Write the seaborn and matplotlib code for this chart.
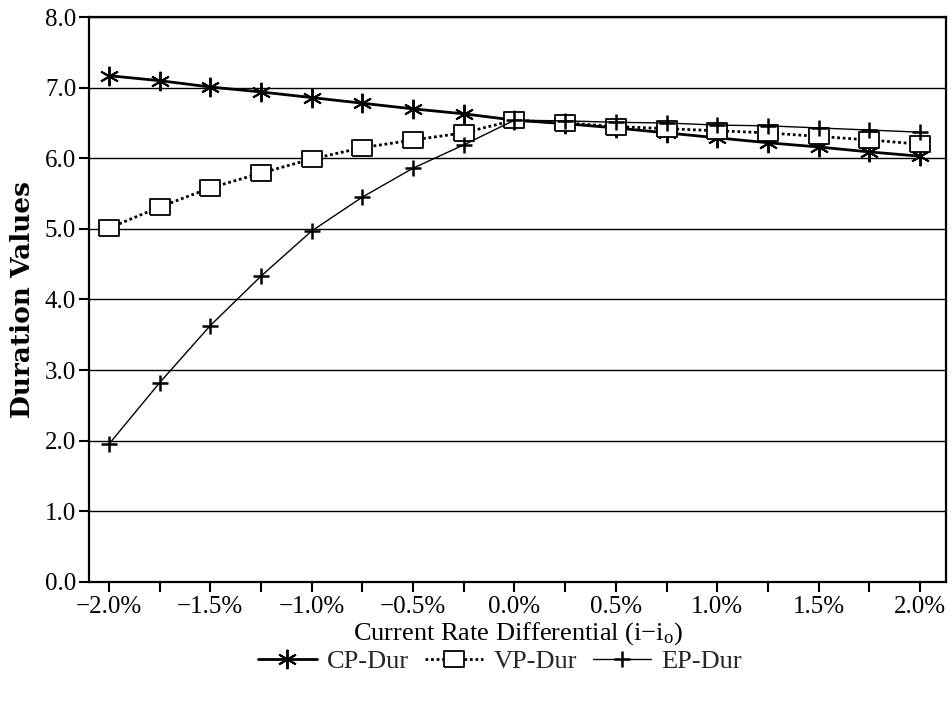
import matplotlib
matplotlib.use("Agg")
import matplotlib.pyplot as plt
from matplotlib.ticker import MultipleLocator, FuncFormatter
import seaborn as sns
import pandas as pd

# rate differential in percent
rate_diff = [-2.0, -1.75, -1.5, -1.25, -1.0, -0.75, -0.5, -0.25, 0.0,
             0.25, 0.5, 0.75, 1.0, 1.25, 1.5, 1.75, 2.0]
cp_dur = [7.17, 7.10, 7.01, 6.94, 6.86, 6.78, 6.70, 6.63, 6.54,
          6.49, 6.43, 6.36, 6.29, 6.22, 6.16, 6.09, 6.03]
vp_dur = [5.01, 5.31, 5.58, 5.79, 5.99, 6.15, 6.26, 6.36, 6.54,
          6.50, 6.45, 6.42, 6.39, 6.36, 6.31, 6.26, 6.20]
ep_dur = [1.95, 2.82, 3.63, 4.33, 4.97, 5.45, 5.86, 6.19, 6.54,
          6.53, 6.51, 6.50, 6.47, 6.46, 6.43, 6.40, 6.37]

df = pd.DataFrame({"rate": rate_diff, "CP-Dur": cp_dur,
                   "VP-Dur": vp_dur, "EP-Dur": ep_dur})

sns.set_theme(style="white")
plt.rcParams["font.family"] = ["Liberation Serif", "DejaVu Serif"]
plt.rcParams["mathtext.fontset"] = "custom"
plt.rcParams["mathtext.rm"] = "Liberation Serif"
plt.rcParams["mathtext.it"] = "Liberation Serif:italic"

# wide open box used for VP-Dur
box = [(-1.3, -1), (1.3, -1), (1.3, 1), (-1.3, 1), (-1.3, -1)]

fig, ax = plt.subplots(figsize=(9.53, 7.13), dpi=100)
fig.subplots_adjust(left=0.093, right=0.993, top=0.976, bottom=0.184)

sns.lineplot(data=df, x="rate", y="CP-Dur", ax=ax, color="black", lw=2.0,
             marker=(6, 2, 0), markersize=14, markeredgewidth=1.4,
             markeredgecolor="black", label="CP-Dur")
sns.lineplot(data=df, x="rate", y="VP-Dur", ax=ax, color="black", lw=2.0,
             linestyle=(0, (1, 1)), marker=box, markersize=15,
             markerfacecolor="white", markeredgecolor="black",
             markeredgewidth=1.3, label="VP-Dur")
sns.lineplot(data=df, x="rate", y="EP-Dur", ax=ax, color="black", lw=1.0,
             marker="+", markersize=12, markeredgewidth=1.8,
             markeredgecolor="black", label="EP-Dur")

ax.set_xlim(-2.1, 2.13)
ax.set_ylim(0, 8)
ax.xaxis.set_major_locator(MultipleLocator(0.5))
ax.xaxis.set_minor_locator(MultipleLocator(0.25))
ax.yaxis.set_major_locator(MultipleLocator(1.0))
ax.xaxis.set_major_formatter(
    FuncFormatter(lambda v, p: f"{v:.1f}%".replace("-", "\u2212")))
ax.yaxis.set_major_formatter(FuncFormatter(lambda v, p: f"{v:.1f}"))

ax.tick_params(axis="both", which="both", direction="out", length=7,
               width=1.5, color="black", labelsize=18, labelcolor="black",
               bottom=True, left=True)
ax.tick_params(axis="x", pad=3)
ax.tick_params(axis="y", pad=2)
ax.yaxis.grid(True, color="black", lw=1.0)
ax.xaxis.grid(False)
for s in ax.spines.values():
    s.set_visible(True)
    s.set_color("black")
    s.set_linewidth(1.6)

ax.set_xlabel("Current Rate Differential (i\u2212i$_{\\mathrm{o}}$)",
              fontsize=19, color="black", labelpad=2)
ax.set_ylabel("Duration Values", fontsize=19, fontweight="bold",
              family="DejaVu Serif", color="black", labelpad=7)

ax.get_legend().remove()
handles, labels = ax.get_legend_handles_labels()
fig.legend(handles, labels, loc="center", bbox_to_anchor=(0.525, 0.072),
           ncol=3, frameon=False, fontsize=19, handlelength=2.2,
           handletextpad=0.4, columnspacing=0.6)

fig.savefig("out.png", dpi=100)
